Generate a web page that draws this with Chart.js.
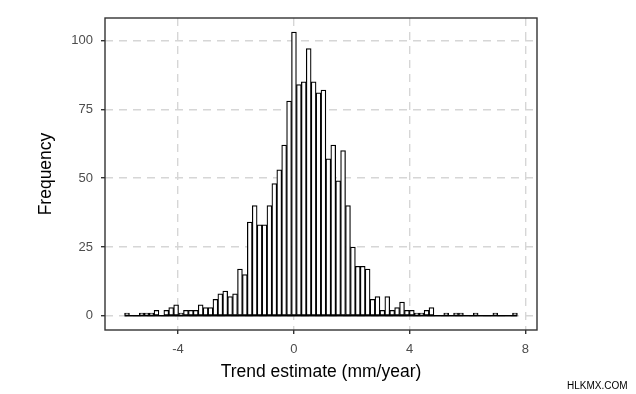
<!DOCTYPE html>
<html><head><meta charset="utf-8">
<script src="https://cdn.jsdelivr.net/npm/chart.js@4.4.1/dist/chart.umd.min.js"></script>
<style>
html,body{margin:0;padding:0;background:#fff;overflow:hidden}
#wrap{position:relative;width:636px;height:394px}
#wm{position:absolute;left:567px;top:380px;font:10px "Liberation Sans",Arial,sans-serif;color:#000;white-space:nowrap}
</style></head><body>
<div id="wrap"><canvas id="c" width="636" height="394"></canvas><div id="wm">HLKMX.COM</div></div>
<script>
// Histogram bin centres (mm/year)
const binCenters = [
 -5.760,-5.590,-5.421,-5.251,-5.082,-4.912,-4.742,-4.573,-4.403,-4.234,
 -4.064,-3.894,-3.725,-3.555,-3.386,-3.216,-3.046,-2.877,-2.707,-2.538,
 -2.368,-2.198,-2.029,-1.859,-1.690,-1.520,-1.350,-1.181,-1.011,-0.842,
 -0.672,-0.502,-0.333,-0.163, 0.006, 0.176, 0.346, 0.515, 0.685, 0.854,
  1.024, 1.194, 1.363, 1.533, 1.702, 1.872, 2.042, 2.211, 2.381, 2.550,
  2.720, 2.890, 3.059, 3.229, 3.398, 3.568, 3.738, 3.907, 4.077, 4.246,
  4.416, 4.586, 4.755, 4.925, 5.094, 5.264, 5.434, 5.603, 5.773, 5.942,
  6.112, 6.282, 6.451, 6.621, 6.790, 6.960, 7.130, 7.299, 7.469, 7.638
];
// Frequencies per bin
const counts = [
  1, 0, 0, 1, 1, 1, 2, 0, 2, 3,
  4, 1, 2, 2, 2, 4, 3, 3, 6, 8,
  9, 7, 8,17,15,34,40,33,33,40,
 48,53,62,78,103,84,85,97,85,81,
 82,57,62,49,60,40,25,18,18,17,
  6, 7, 2, 7, 2, 3, 5, 2, 2, 1,
  1, 2, 3, 0, 0, 1, 0, 1, 1, 0,
  0, 1, 0, 0, 0, 1, 0, 0, 0, 1
];
// Outer edges of the binned range (zero-count bins show as a base line)
const binRange = [-5.845, 7.723];
const xTicks = [-4, 0, 4, 8];
const yTicks = [0, 25, 50, 75, 100];

const FONT = '"Liberation Sans", Arial, Helvetica, sans-serif';

const frame = {
  id: 'frame',
  afterDatasetsDraw(chart) {
    const {ctx, chartArea: a} = chart;
    ctx.save();
    ctx.strokeStyle = '#333333';
    ctx.lineWidth = 1.4;
    ctx.strokeRect(a.left, a.top, a.right - a.left, a.bottom - a.top);
    ctx.restore();
  }
};

const gridOpts = {
  offset: false, color: '#d6d6d6', lineWidth: 1.4,
  tickColor: '#333333', tickWidth: 1.4, tickLength: 4, tickBorderDash: []
};

new Chart(document.getElementById('c'), {
  type: 'bar',
  data: {
    datasets: [
      {
        type: 'bar',
        data: binCenters.map((x, i) => ({x: x, y: counts[i]})),
        backgroundColor: '#ffffff',
        borderColor: '#000000',
        borderWidth: 1.25,
        borderSkipped: false,
        barPercentage: 1,
        categoryPercentage: 1,
        order: 1
      },
      {
        type: 'line',
        data: binRange.map(x => ({x: x, y: 0})),
        borderColor: '#000000',
        borderWidth: 1.4,
        pointRadius: 0,
        order: 2
      }
    ]
  },
  options: {
    responsive: false,
    animation: false,
    devicePixelRatio: 1,
    layout: {padding: {left: 0, top: 18, right: 99, bottom: 0}},
    plugins: {legend: {display: false}, tooltip: {enabled: false}},
    scales: {
      x: {
        type: 'linear', min: -6.52, max: 8.40, offset: false,
        afterBuildTicks: s => { s.ticks = xTicks.map(v => ({value: v})); },
        afterFit: s => { s.height = 64; },
        grid: gridOpts,
        border: {display: false, dash: [8, 6]},
        ticks: {color: '#4d4d4d', font: {family: FONT, size: 13}, padding: 8,
                maxRotation: 0, autoSkip: false},
        title: {display: true, text: 'Trend estimate (mm/year)', color: '#000000',
                font: {family: FONT, size: 17.5, lineHeight: 1.2},
                padding: {top: 0, bottom: 11.5}}
      },
      y: {
        type: 'linear', min: -5.15, max: 108.15,
        afterBuildTicks: s => { s.ticks = yTicks.map(v => ({value: v})); },
        afterFit: s => { s.width = 105; },
        grid: gridOpts,
        border: {display: false, dash: [8, 6]},
        ticks: {color: '#4d4d4d', font: {family: FONT, size: 13}, padding: 8, autoSkip: false},
        title: {display: true, text: 'Frequency', color: '#000000',
                font: {family: FONT, size: 17.5, lineHeight: 1.2},
                padding: {top: 35.5, bottom: 0}}
      }
    }
  },
  plugins: [frame]
});
</script>
</body></html>
